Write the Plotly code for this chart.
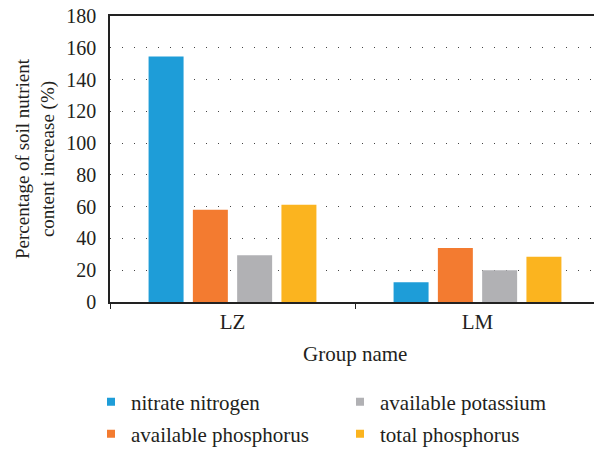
import plotly.graph_objects as go

groups = ["LZ", "LM"]
series_names = ["nitrate nitrogen", "available phosphorus", "available potassium", "total phosphorus"]
nitrate_nitrogen = [154.5, 12.5]
available_phosphorus = [58.0, 34.0]
available_potassium = [29.5, 20.0]
total_phosphorus = [61.2, 28.5]
colors = ["#1E9DD8", "#F37B30", "#B1B1B4", "#FBB41F"]
legend_ids = ["legend", "legend2", "legend", "legend2"]
y_ticks = [0, 20, 40, 60, 80, 100, 120, 140, 160, 180]

W, H = 594, 449
L, T, B, R = 110, 16, 147, 0
plot_w = W - L - R
plot_h = H - T - B
px_per_cat = 245.0

FONT = "Liberation Serif, DejaVu Serif, serif"
TXT = "#231f20"

fig = go.Figure()
all_values = [nitrate_nitrogen, available_phosphorus, available_potassium, total_phosphorus]
for name, vals, col, lg in zip(series_names, all_values, colors, legend_ids):
    fig.add_trace(go.Bar(x=groups, y=vals, name=name, marker=dict(color=col, line=dict(width=0)),
                         showlegend=False))
    # legend-only entry with a small square swatch
    fig.add_trace(go.Scatter(x=[None], y=[None], mode="markers", name=name, legend=lg,
                             marker=dict(symbol="square", size=8, color=col), hoverinfo="skip"))

leg_common = dict(orientation="h", xanchor="left", yanchor="middle",
                  entrywidth=204, entrywidthmode="pixels", font=dict(size=21, family=FONT, color=TXT),
                  bgcolor="rgba(0,0,0,0)", traceorder="normal", itemwidth=30)

fig.update_layout(
    width=W, height=H,
    margin=dict(l=L, r=R, t=T, b=B, autoexpand=False),
    paper_bgcolor="white", plot_bgcolor="white",
    barmode="group", bargap=0.277, bargroupgap=0.21,
    font=dict(family=FONT, size=20, color=TXT),
    xaxis=dict(type="category", range=[-0.5, -0.5 + plot_w / px_per_cat], automargin=False,
               showline=True, linecolor="#222", linewidth=1.5, mirror=True,
               ticks="outside", tickson="boundaries", ticklen=5, tickcolor="#222",
               showgrid=False, tickfont=dict(size=21, family=FONT, color=TXT)),
    yaxis=dict(range=[0, 180], tickvals=y_ticks, showline=True, linecolor="#222", linewidth=1.5,
               ticks="", ticklabelstandoff=8, zeroline=False, automargin=False,
               showgrid=True, gridcolor="#444", gridwidth=1, griddash="1px,11px",
               tickfont=dict(size=20, family=FONT, color=TXT)),
    legend=dict(x=(91 - L) / plot_w, y=(302 - 402) / plot_h, **leg_common),
    legend2=dict(x=(91 - L) / plot_w, y=(302 - 434) / plot_h, **leg_common),
    annotations=[
        dict(text="Percentage of soil nutrient<br>content increase (%)", textangle=-90,
             xref="paper", yref="paper", x=(35 - L) / plot_w, y=0.5, xanchor="center", yanchor="middle",
             showarrow=False, font=dict(size=19, family=FONT, color=TXT)),
        dict(text="Group name", xref="paper", yref="paper", x=(355 - L) / plot_w, y=(302 - 354) / plot_h,
             xanchor="center", yanchor="middle", showarrow=False, font=dict(size=21, family=FONT, color=TXT)),
    ],
)

fig.write_html("out.html", config={"displayModeBar": False},
               post_script="document.body.style.margin='0';")
